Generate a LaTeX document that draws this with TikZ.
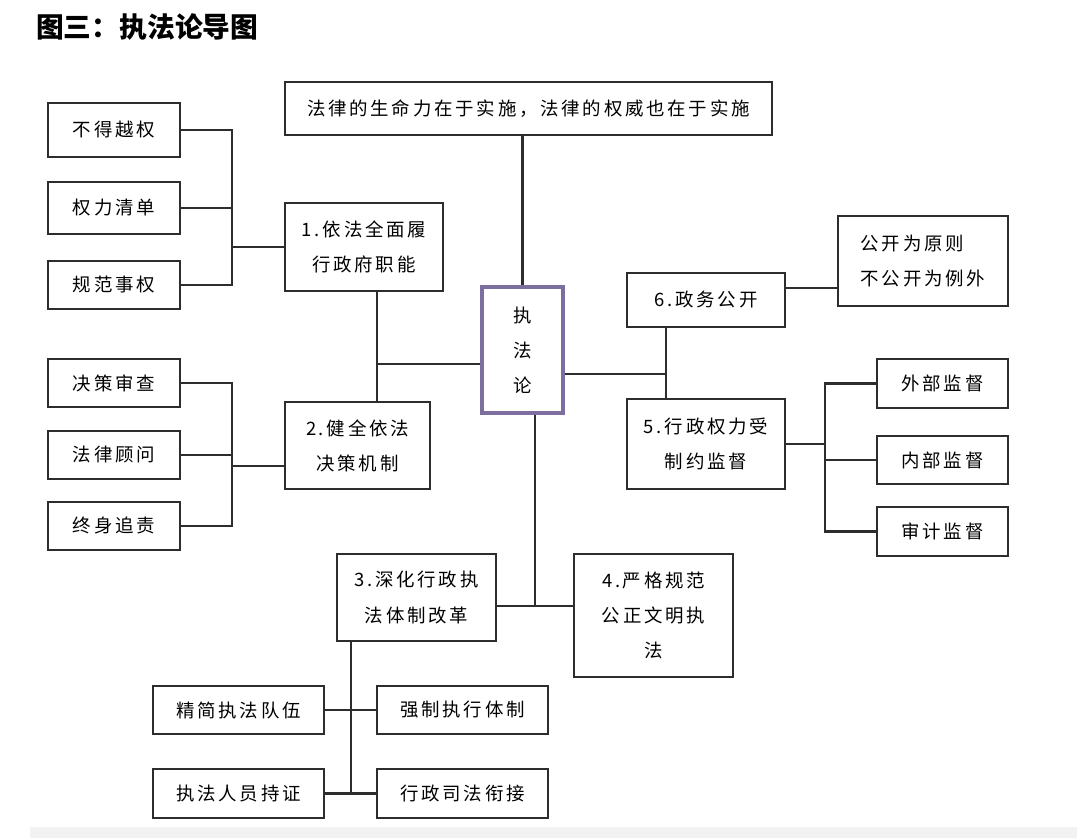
\documentclass[tikz,border=0pt]{standalone}
\usepackage{fontspec}
\newfontfamily\kai[LetterSpace=15]{Noto Sans CJK SC}
\newfontfamily\hei{Noto Sans CJK SC}
\usetikzlibrary{positioning}
\definecolor{lineclr}{RGB}{45,45,45}
\definecolor{purpclr}{RGB}{125,110,160}

\begin{document}
\begin{tikzpicture}[x=0.02cm,y=-0.02cm,
  box/.style={draw=lineclr,line width=1.2pt,align=center,inner sep=0pt,
    font=\kai\fontsize{10.5}{20}\selectfont},
  sz/.style 2 args={minimum width=#1*0.02cm,minimum height=#2*0.02cm},
  link/.style={draw=lineclr,line width=1.2pt}]
\useasboundingbox (0,0) rectangle (1077,838);
\fill [black!5] (30,827) rectangle (1077,838);
\node (title) at (30,27) [anchor=west,font=\hei\bfseries\fontsize{15.8}{15.8}\selectfont] {图三：执法论导图};
% centre and top
\node (top) at (528.5,108.5) [box,sz={487}{53}] {法律的生命力在于实施，法律的权威也在于实施};
\node (core) at (522.5,350) [box,sz={81}{126},draw=purpclr,line width=2.2pt] {执\\法\\论};
% left side
\node (n1) at (364,247) [box,sz={158}{88}] {1.依法全面履\\行政府职能};
\node (n2) at (357.5,445.5) [box,sz={145}{87}] {2.健全依法\\决策机制};
\node (a1) at (114,130) [box,sz={132}{54}] {不得越权};
\node (a2) at (114,208) [box,sz={132}{52}] {权力清单};
\node (a3) at (114,285) [box,sz={132}{48}] {规范事权};
\node (b1) at (114,383) [box,sz={132}{48}] {决策审查};
\node (b2) at (114,455) [box,sz={132}{48}] {法律顾问};
\node (b3) at (114,526) [box,sz={132}{48}] {终身追责};
% right side
\node (n6) at (706,300) [box,sz={158}{54}] {6.政务公开};
\node (pub) at (923,261) [box,sz={170}{90},align=left] {公开为原则\\不公开为例外};
\node (n5) at (706,444) [box,sz={158}{90}] {5.行政权力受\\制约监督};
\node (d1) at (942.5,383.5) [box,sz={131}{49}] {外部监督};
\node (d2) at (942.5,460) [box,sz={131}{48}] {内部监督};
\node (d3) at (942.5,531.5) [box,sz={131}{49}] {审计监督};
% bottom
\node (n3) at (416.5,597.5) [box,sz={159}{87}] {3.深化行政执\\法体制改革};
\node (n4) at (653.5,615.5) [box,sz={159}{123}] {4.严格规范\\公正文明执\\法};
\node (e1) at (238.5,710) [box,sz={171}{48}] {精简执法队伍};
\node (e2) at (462.5,710) [box,sz={171}{48}] {强制执行体制};
\node (e3) at (238.5,793.5) [box,sz={171}{49}] {执法人员持证};
\node (e4) at (462.5,793.5) [box,sz={171}{49}] {行政司法衔接};

\coordinate (jl) at (377,364);
\coordinate (jr) at (666,374);
\coordinate (jb) at (535,606);
\coordinate (busa) at (232,0);
\coordinate (busr) at (825,0);
\coordinate (busd) at (351,0);

\draw [link] (core.north |- top.south) -- (core.north);
\draw [link] (jl |- n1.south) -- (jl |- n2.north);
\draw [link] (jl) -- (jl -| core.west);
\draw [link] (a1.east) -- (a1.east -| busa) -- (a3.east -| busa) -- (a3.east);
\draw [link] (a2.east) -- (a2.east -| busa);
\draw [link] (n1.west) -- (n1.west -| busa);
\draw [link] (b1.east) -- (b1.east -| busa) -- (b3.east -| busa) -- (b3.east);
\draw [link] (b2.east) -- (b2.east -| busa);
\draw [link] ([yshift=-0.41cm]n2.west) -- ([yshift=-0.41cm]n2.west -| busa);
\draw [link] (core.east |- jr) -- (jr);
\draw [link] (jr |- n6.south) -- (jr |- n5.north);
\draw [link] ([yshift=0.24cm]n6.east) -- ([yshift=0.24cm]n6.east -| pub.west);
\draw [link] (d1.west) -- (d1.west -| busr) -- (d3.west -| busr) -- (d3.west);
\draw [link] (d2.west) -- (d2.west -| busr);
\draw [link] (n5.east) -- (n5.east -| busr);
\draw [link] (jb |- core.south) -- (jb);
\draw [link] (n3.east |- jb) -- (n4.west |- jb);
\draw [link] (n3.south -| busd) -- (e3.east -| busd);
\draw [link] (e1.east) -- (e2.west);
\draw [link] (e3.east) -- (e4.west);
\end{tikzpicture}
\end{document}
